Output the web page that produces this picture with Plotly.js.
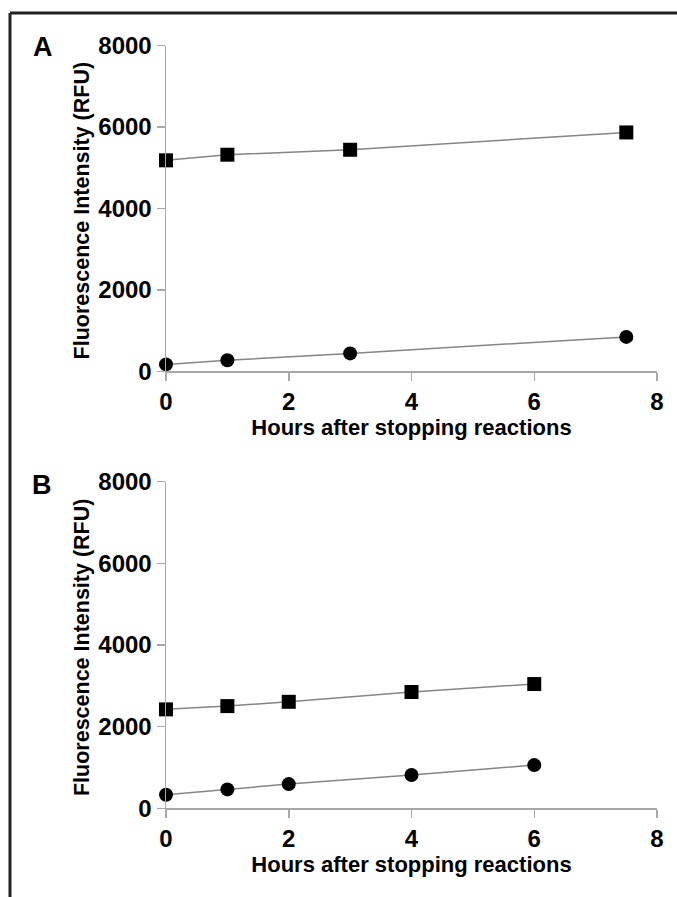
<!DOCTYPE html>
<html>
<head>
<meta charset="utf-8">
<script src="https://cdn.plot.ly/plotly-3.0.1.min.js"></script>
<style>
  html, body { margin: 0; padding: 0; background: #fff; }
  #chart { width: 677px; height: 897px; }
</style>
</head>
<body>
<div id="chart"></div>
<script>
// Panel A: fluorescence readings after stopping reactions
const hoursA = [0, 1, 3, 7.5];
const squaresA = [5180, 5318, 5440, 5865];
const circlesA = [170, 270, 440, 845];

// Panel B
const hoursB = [0, 1, 2, 4, 6];
const squaresB = [2425, 2505, 2610, 2850, 3045];
const circlesB = [335, 465, 595, 818, 1060];

const xTicks = [0, 2, 4, 6, 8];
const yTicks = [0, 2000, 4000, 6000, 8000];
const xTitle = 'Hours after stopping reactions';
const yTitle = 'Fluorescence Intensity (RFU)';
const panelLabels = ['A', 'B'];

const FONT = 'Liberation Sans, Arial, Helvetica, sans-serif';
const W = 677, H = 897;
const panelsPx = [[45.5, 371.3], [481.7, 808.4]];  // top/bottom of each y axis, px

function series(x, y, symbol, xa, ya) {
  return {
    x: x, y: y, xaxis: xa, yaxis: ya,
    type: 'scatter', mode: 'lines+markers',
    cliponaxis: false,
    line: { color: '#858585', width: 1.5 },
    marker: { symbol: symbol, size: 14, color: '#000' },
    showlegend: false, hoverinfo: 'x+y'
  };
}

const data = [
  series(hoursA, squaresA, 'square', 'x', 'y'),
  series(hoursA, circlesA, 'circle', 'x', 'y'),
  series(hoursB, squaresB, 'square', 'x2', 'y2'),
  series(hoursB, circlesB, 'circle', 'x2', 'y2')
];

function xAxis(anchor) {
  return {
    anchor: anchor,
    domain: [166 / W, 657 / W],
    range: [0, 8],
    tickvals: xTicks,
    ticks: 'outside', ticklen: 8, tickwidth: 1.5, tickcolor: '#a8a8a8',
    showline: true, linecolor: '#a8a8a8', linewidth: 1.5,
    showgrid: false, zeroline: false,
    tickfont: { family: FONT, size: 24, color: '#000', weight: 'bold' },
    title: { text: xTitle, standoff: 5, font: { family: FONT, size: 22, color: '#000', weight: 'bold' } }
  };
}

function yAxis(anchor, topPx, bottomPx) {
  return {
    anchor: anchor,
    domain: [(H - bottomPx) / H, (H - topPx) / H],
    range: [0, 8000],
    tickvals: yTicks,
    ticks: 'outside', ticklen: 8, tickwidth: 1.5, tickcolor: '#a8a8a8',
    showline: true, linecolor: '#a8a8a8', linewidth: 1.5,
    showgrid: false, zeroline: false,
    tickfont: { family: FONT, size: 24, color: '#000', weight: 'bold' }
  };
}

const boldFont = (size) => ({ family: FONT, size: size, color: '#000', weight: 'bold' });

// rotated y-axis titles, centred on each y axis
const yTitleNotes = panelsPx.map(([top, bottom]) => ({
  text: yTitle, textangle: -90, xref: 'paper', yref: 'paper',
  x: 82 / W, y: (H - (top + bottom) / 2 - 3) / H,
  xanchor: 'center', yanchor: 'middle', showarrow: false, font: boldFont(21.5)
}));

const layout = {
  width: W, height: H,
  margin: { l: 0, r: 0, t: 0, b: 0 },
  paper_bgcolor: '#fff', plot_bgcolor: '#fff',
  xaxis: xAxis('y'),
  yaxis: yAxis('x', panelsPx[0][0], panelsPx[0][1]),
  xaxis2: xAxis('y2'),
  yaxis2: yAxis('x2', panelsPx[1][0], panelsPx[1][1]),
  annotations: [
    { text: panelLabels[0], xref: 'paper', yref: 'paper', x: 43 / W, y: (H - 47) / H,
      xanchor: 'center', yanchor: 'middle', showarrow: false, font: boldFont(27) },
    { text: panelLabels[1], xref: 'paper', yref: 'paper', x: 42 / W, y: (H - 485) / H,
      xanchor: 'center', yanchor: 'middle', showarrow: false, font: boldFont(27) }
  ].concat(yTitleNotes),
  shapes: [
    // frame: top and left edges
    { type: 'line', xref: 'paper', yref: 'paper', x0: 10 / W, x1: 1, y0: (H - 13) / H, y1: (H - 13) / H,
      line: { color: '#222', width: 3 } },
    { type: 'line', xref: 'paper', yref: 'paper', x0: 10 / W, x1: 10 / W, y0: 0, y1: (H - 13) / H,
      line: { color: '#222', width: 3 } }
  ]
};

Plotly.newPlot('chart', data, layout, { displayModeBar: false, staticPlot: true });
</script>
</body>
</html>
